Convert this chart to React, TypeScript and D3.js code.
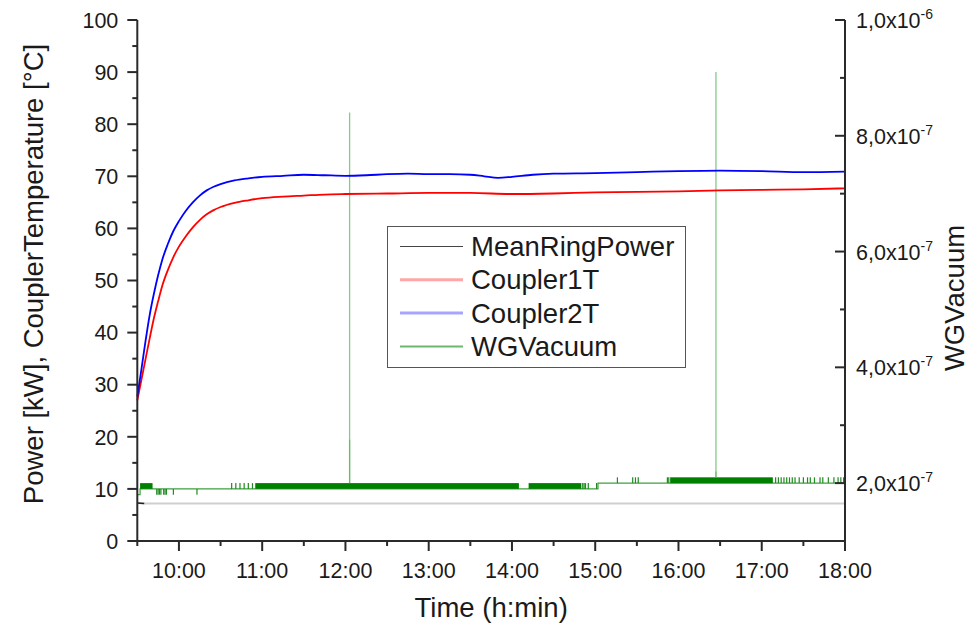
import React from 'react'
import * as d3 from 'd3'

const parseTime = d3.timeParse('%H:%M')

// coupler temperatures [°C] (left axis)
const coupler1T: [string, number][] = [
  ['9:30', 27], ['9:33', 31], ['9:36', 35], ['9:39', 39], ['9:42', 42.8],
  ['9:45', 46.0], ['9:48', 49], ['9:52', 52.0], ['9:56', 54.5], ['10:00', 56.5],
  ['10:05', 58.5], ['10:10', 60.2], ['10:15', 61.6], ['10:20', 62.7], ['10:25', 63.5],
  ['10:30', 64.1], ['10:40', 64.9], ['10:50', 65.4], ['11:00', 65.8], ['11:15', 66.1],
  ['11:30', 66.3], ['11:45', 66.5], ['12:00', 66.6], ['12:30', 66.7], ['13:00', 66.8],
  ['13:30', 66.8], ['14:00', 66.6], ['14:30', 66.7], ['15:00', 66.9], ['15:30', 67.0],
  ['16:00', 67.1], ['16:30', 67.3], ['17:00', 67.4], ['17:30', 67.5], ['18:00', 67.7],
]

const coupler2T: [string, number][] = [
  ['9:30', 27.7], ['9:33', 33], ['9:36', 38.5], ['9:39', 43.5], ['9:42', 47.5],
  ['9:45', 51], ['9:48', 54], ['9:52', 57], ['9:56', 59.5], ['10:00', 61.4],
  ['10:05', 63.4], ['10:10', 65.0], ['10:15', 66.3], ['10:20', 67.3], ['10:25', 68.0],
  ['10:30', 68.5], ['10:40', 69.2], ['10:50', 69.6], ['11:00', 69.9], ['11:15', 70.1],
  ['11:30', 70.3], ['11:45', 70.2], ['12:00', 70.1], ['12:15', 70.2], ['12:30', 70.4],
  ['12:45', 70.5], ['13:00', 70.4], ['13:15', 70.4], ['13:30', 70.3], ['13:40', 70.0],
  ['13:50', 69.7], ['14:00', 69.9], ['14:15', 70.3], ['14:30', 70.5], ['15:00', 70.6],
  ['15:30', 70.8], ['16:00', 71.0], ['16:30', 71.1], ['17:00', 71.0], ['17:30', 70.8],
  ['18:00', 70.9],
]

// mean ring power [kW]
const meanRingPower: [string, number][] = [['9:30', 7.3], ['9:35', 7.2], ['18:00', 7.2]]

// waveguide vacuum, in units of 1e-7 (right axis)
const vacBase: [string, number][] = [
  ['9:30', 1.8], ['9:32', 1.9], ['15:02', 2.0], ['18:00', 2.0],
]
// stretches where the reading flickers quickly between two levels
const vacBands: [string, string, number, number][] = [
  ['9:32', '9:41', 1.9, 2.0],
  ['10:55', '14:05', 1.9, 2.0],
  ['14:12', '14:50', 1.9, 2.0],
  ['15:54', '17:08', 2.0, 2.1],
]
// single flicks away from the base level: time, from, to
const vacBlips: [string, number, number][] = [
  ['9:44', 1.9, 1.8], ['9:45', 1.9, 1.8], ['9:46', 1.9, 1.8], ['9:47', 1.9, 1.8],
  ['9:49', 1.9, 1.8], ['9:50', 1.9, 1.8], ['9:51', 1.9, 1.8], ['9:56', 1.9, 1.8],
  ['10:13', 1.9, 1.8],
  ['10:38', 1.9, 2.0], ['10:41', 1.9, 2.0], ['10:44', 1.9, 2.0], ['10:47', 1.9, 2.0],
  ['10:50', 1.9, 2.0], ['10:53', 1.9, 2.0],
  ['14:51', 1.9, 2.0], ['14:52', 1.9, 2.0], ['14:53', 1.9, 2.0], ['14:55', 1.9, 2.0],
  ['15:01', 1.9, 2.0],
  ['15:16', 2.0, 2.1], ['15:27', 2.0, 2.1], ['15:29', 2.0, 2.1], ['15:31', 2.0, 2.1],
  ['15:52', 2.0, 2.1], ['15:53', 2.0, 2.1],
  ['17:10', 2.0, 2.1], ['17:12', 2.0, 2.1], ['17:14', 2.0, 2.1], ['17:16', 2.0, 2.1],
  ['17:18', 2.0, 2.1], ['17:20', 2.0, 2.1], ['17:22', 2.0, 2.1], ['17:24', 2.0, 2.1],
  ['17:27', 2.0, 2.1], ['17:30', 2.0, 2.1], ['17:33', 2.0, 2.1], ['17:35', 2.0, 2.1],
  ['17:38', 2.0, 2.1], ['17:42', 2.0, 2.1], ['17:44', 2.0, 2.1], ['17:48', 2.0, 2.1],
  ['17:52', 2.0, 2.1], ['17:55', 2.0, 2.1], ['17:57', 2.0, 2.1], ['17:59', 2.0, 2.1],
]
// pressure bursts
const vacSpikes: [string, number, number][] = [
  ['12:03', 2.0, 8.4], ['12:03', 2.0, 2.75],
  ['16:27', 2.1, 9.1], ['16:27', 2.1, 2.2],
]

const legendItems = ['MeanRingPower', 'Coupler1T', 'Coupler2T', 'WGVacuum']

const font = 'Arial, "Liberation Sans", sans-serif'

export default function App() {
  const width = 970,
    height = 626

  const left = 137.3,
    right = 845,
    top = 20,
    bottom = 541

  const t = (s: string) => parseTime(s) as Date

  const x = d3.scaleTime().domain([t('9:30'), t('18:00')]).range([left, right])
  const y = d3.scaleLinear().domain([0, 100]).range([bottom, top])
  const yR = d3.scaleLinear().domain([1, 10]).range([bottom, top])

  const lineL = d3
    .line<[string, number]>()
    .x(d => x(t(d[0])))
    .y(d => y(d[1]))

  // smooth version for the temperature traces
  const curveL = d3
    .line<[string, number]>()
    .x(d => x(t(d[0])))
    .y(d => y(d[1]))
    .curve(d3.curveMonotoneX)

  const lineR = d3
    .line<[string, number]>()
    .x(d => x(t(d[0])))
    .y(d => yR(d[1]))
    .curve(d3.curveStepAfter)

  // ticks
  const xMajor = x.ticks(d3.timeHour.every(1) as d3.TimeInterval)
  const xMinor = x
    .ticks(d3.timeMinute.every(30) as d3.TimeInterval)
    .filter(d => d.getMinutes() !== 0)
  const fmtX = d3.timeFormat('%H:%M')

  const yMajor = y.ticks(10)
  const yMinor = y.ticks(20).filter(d => d % 10 !== 0)

  const rMajor = yR.ticks(5)
  const rMinor = yR.ticks(10).filter(d => d % 2 !== 0 && d !== 1)

  const axisColor = '#2a2a2a'

  const rLabel = (v: number) => {
    const [m, e] = (v * 1e-7).toExponential(1).split('e')
    return { m: m.replace('.', ','), e: String(Number(e)) }
  }

  const green = '#008000'

  const legendStroke = [
    { stroke: '#444', w: 1, o: 1 },
    { stroke: '#ff0000', w: 3, o: 0.35 },
    { stroke: '#0000ff', w: 3, o: 0.35 },
    { stroke: '#2e9a2e', w: 2, o: 0.7 },
  ]

  return (
    <svg
      width={width}
      height={height}
      style={{ position: 'absolute', left: 0, top: 0, background: '#fff' }}
      fontFamily={font}
    >
      {/* mean ring power */}
      <path d={lineL(meanRingPower) || ''} fill="none" stroke="#cfcfcf" strokeWidth={2} />
      <path d={lineL(meanRingPower.slice(0, 2)) || ''} fill="none" stroke="#222" strokeWidth={1.5} />

      {/* vacuum */}
      <path d={lineR(vacBase) || ''} fill="none" stroke="#3f9f3f" strokeWidth={1.2} />
      {vacBands.map((b, i) => (
        <rect
          key={i}
          x={x(t(b[0]))}
          width={x(t(b[1])) - x(t(b[0]))}
          y={yR(b[3])}
          height={yR(b[2]) - yR(b[3])}
          fill={green}
        />
      ))}
      {vacBlips.map((b, i) => (
        <line
          key={i}
          x1={x(t(b[0]))}
          x2={x(t(b[0]))}
          y1={yR(b[1])}
          y2={yR(b[2])}
          stroke="#1f8a1f"
          strokeWidth={1.2}
        />
      ))}
      {vacSpikes.map((s, i) => (
        <line
          key={i}
          x1={x(t(s[0]))}
          x2={x(t(s[0]))}
          y1={yR(s[1])}
          y2={yR(s[2])}
          stroke="#5fb85f"
          strokeOpacity={0.75}
          strokeWidth={1.3}
        />
      ))}

      {/* temperatures */}
      <path d={curveL(coupler1T) || ''} fill="none" stroke="#ff0000" strokeWidth={1.8} />
      <path d={curveL(coupler2T) || ''} fill="none" stroke="#0000ff" strokeWidth={1.8} />

      {/* axes */}
      <g stroke={axisColor} strokeWidth={2}>
        <line x1={left} x2={left} y1={top} y2={bottom} />
        <line x1={right} x2={right} y1={top} y2={bottom} />
        <line x1={left - 1} x2={right + 1} y1={bottom} y2={bottom} />
        {yMajor.map(d => (
          <line key={'lM' + d} x1={left - 10} x2={left} y1={y(d)} y2={y(d)} />
        ))}
        {yMinor.map(d => (
          <line key={'lm' + d} x1={left - 5} x2={left} y1={y(d)} y2={y(d)} />
        ))}
        {rMajor.map(d => (
          <line key={'rM' + d} x1={right - 10} x2={right} y1={yR(d)} y2={yR(d)} />
        ))}
        {rMinor.map(d => (
          <line key={'rm' + d} x1={right - 5} x2={right} y1={yR(d)} y2={yR(d)} />
        ))}
        {xMajor.map(d => (
          <line key={'xM' + d.getTime()} x1={x(d)} x2={x(d)} y1={bottom} y2={bottom + 10} />
        ))}
        {xMinor.map(d => (
          <line key={'xm' + d.getTime()} x1={x(d)} x2={x(d)} y1={bottom} y2={bottom + 5} />
        ))}
      </g>

      {/* tick labels */}
      <g fontSize={21.5} fill="#1a1a1a">
        {yMajor.map(d => (
          <text key={d} x={left - 19} y={y(d)} dy="0.36em" textAnchor="end">
            {d}
          </text>
        ))}
        {xMajor.map(d => (
          <text key={d.getTime()} x={x(d)} y={bottom + 37} textAnchor="middle">
            {fmtX(d)}
          </text>
        ))}
        {rMajor.map(d => {
          const l = rLabel(d)
          return (
            <text key={d} x={right + 11} y={yR(d) + 8}>
              {l.m}x10
              <tspan dy={-9} fontSize={14}>
                {l.e}
              </tspan>
            </text>
          )
        })}
      </g>

      {/* axis titles */}
      <g fontSize={27.5} fill="#1a1a1a">
        <text x={(left + right) / 2} y={617} textAnchor="middle">
          Time (h:min)
        </text>
        <text transform="translate(43,274) rotate(-90)" textAnchor="middle">
          Power [kW], CouplerTemperature [°C]
        </text>
        <text transform="translate(964,298) rotate(-90)" textAnchor="middle">
          WGVacuum
        </text>
      </g>

      {/* legend */}
      <g>
        <rect x={387.5} y={226.5} width={298} height={141} fill="#fff" stroke="#555" strokeWidth={1} />
        {legendItems.map((name, i) => {
          const base = 256 + i * 33.3
          const s = legendStroke[i]
          return (
            <g key={name}>
              <line
                x1={400}
                x2={463}
                y1={base - 9.5}
                y2={base - 9.5}
                stroke={s.stroke}
                strokeWidth={s.w}
                strokeOpacity={s.o}
              />
              <text x={471} y={base} fontSize={27.5} fill="#1a1a1a">
                {name}
              </text>
            </g>
          )
        })}
      </g>
    </svg>
  )
}
